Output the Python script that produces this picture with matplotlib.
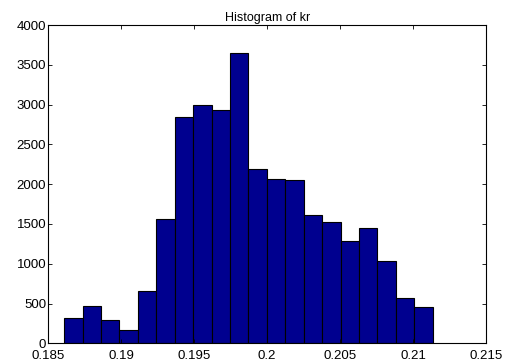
import numpy as np
import matplotlib
matplotlib.use("Agg")
import matplotlib.pyplot as plt

plt.rcParams['font.family'] = ['Liberation Sans', 'DejaVu Sans']

# histogram counts (20 bins)
counts = [314, 465, 293, 163, 661, 1565, 2840, 2998, 2928, 3652,
          2190, 2068, 2048, 1608, 1528, 1285, 1453, 1030, 565, 456]
bin_lo = 0.18608
bin_hi = 0.21135
xticks = [0.185, 0.19, 0.195, 0.2, 0.205, 0.21, 0.215]
xticklabels = ['0.185', '0.19', '0.195', '0.2', '0.205', '0.21', '0.215']
yticks = [0, 500, 1000, 1500, 2000, 2500, 3000, 3500, 4000]

edges = np.linspace(bin_lo, bin_hi, len(counts) + 1)
centers = (edges[:-1] + edges[1:]) / 2

fig = plt.figure(figsize=(5.06, 3.64), dpi=100)
ax = fig.add_axes([0.0955, 0.0569, 0.865, 0.8744])
ax.hist(centers, bins=edges, weights=counts, color='#00008F',
        edgecolor='black', linewidth=0.8)

ax.set_xlim(0.185, 0.215)
ax.set_ylim(0, 4000)
ax.set_xticks(xticks)
ax.set_xticklabels(xticklabels)
ax.set_yticks(yticks)
ax.tick_params(direction='in', length=3, width=0.6, top=True, right=True,
               labelsize=9.5)
ax.tick_params(axis='x', pad=4.5)
ax.tick_params(axis='y', pad=1.5)
for s in ax.spines.values():
    s.set_linewidth(0.8)
ax.set_title('Histogram of kr', fontsize=9, pad=3)

fig.savefig('out.png', dpi=100)
